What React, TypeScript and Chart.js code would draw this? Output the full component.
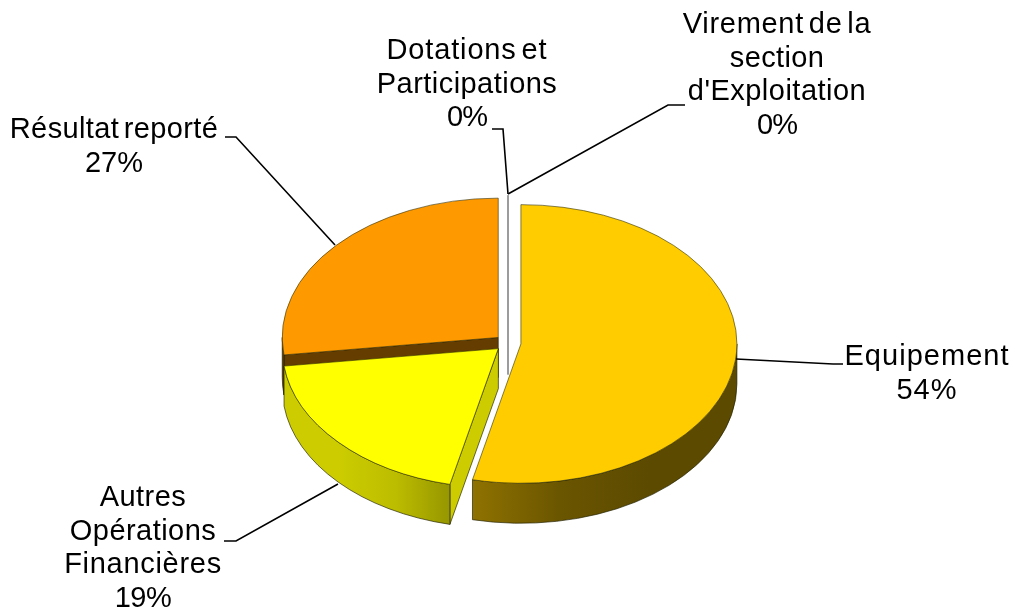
import React, { useEffect, useRef } from "react";
import { Chart, registerables } from "chart.js";

Chart.register(...registerables);

const categories = ["Equipement", "Autres Opérations Financières", "Résultat reporté", "Dotations et Participations", "Virement de la section d'Exploitation"];
const shares = [53.6, 19.4, 27.0, 0, 0];
const topColors = ["#FFCC00", "#FFFF00", "#FF9900", "#999999", "#999999"];
const wallStops = [
  ["#8F7200", "#6A5500", "#5C4A00", "#5C4A00"],
  ["#CCCC00", "#CCCC00", "#BDBD00", "#969600"],
  ["#663D00", "#663D00", "#663D00", "#663D00"],
  ["#999999", "#999999", "#999999", "#999999"],
  ["#999999", "#999999", "#999999", "#999999"],
];
const cutColors = ["#665200", "#CCCC00", "#663D00", "#999999", "#999999"];
const labelLines = [
  ["Equipement", "54%"],
  ["Autres", "Opérations", "Financières", "19%"],
  ["Résultat reporté", "27%"],
  ["Dotations et", "Participations", "0%"],
  ["Virement de la", "section", "d'Exploitation", "0%"],
];
const labelWidths = [
  [164, 60],
  [86, 146, 157, 57],
  [208, 58],
  [160, 180, 41],
  [188, 94, 178, 41],
];
const labelAnchors = [
  [927, 357],
  [143, 498],
  [114, 130],
  [467, 51],
  [777, 25],
];
const leaders = [
  [[736, 359], [833, 364], [843, 364]],
  [[338, 484], [236, 541], [224, 541]],
  [[335, 245], [236, 137], [225, 137]],
  [[508, 194], [503, 129], [492, 129]],
  [[508, 194], [668, 105], [685, 105]],
];

const TILT = 0.645;
const DEPTH = 40;
const EXPLODE = 13;
const RADIUS = 216;
const LINE_HEIGHT = 33.7;

function geometry(arc: any) {
  const mid = (arc.startAngle + arc.endAngle) / 2;
  return { ex: EXPLODE * Math.cos(mid), ey: EXPLODE * Math.sin(mid) };
}

const pie3d = {
  id: "pie3d",
  beforeDatasetDraw(chart: any) {
    const ctx = chart.ctx;
    const arcs = chart.getDatasetMeta(0).data;
    const order = arcs.map((_: any, i: number) => i).reverse();
    // walls, back to front
    for (const i of order) {
      const arc = arcs[i];
      const { ex, ey } = geometry(arc);
      const px = arc.x + ex;
      const py = arc.y + TILT * ey;
      const R = arc.outerRadius;
      const s = arc.startAngle;
      const e = arc.endAngle;
      if (e - s < 1e-6) {
        const topY = py - TILT * R;
        ctx.save();
        ctx.strokeStyle = cutColors[i];
        ctx.lineWidth = 1.6;
        ctx.beginPath();
        ctx.moveTo(px, topY);
        ctx.lineTo(px, py + DEPTH);
        ctx.stroke();
        ctx.restore();
        continue;
      }
      const cut = (a: number) => {
        ctx.beginPath();
        ctx.moveTo(px, py);
        ctx.lineTo(px + R * Math.cos(a), py + TILT * R * Math.sin(a));
        ctx.lineTo(px + R * Math.cos(a), py + TILT * R * Math.sin(a) + DEPTH);
        ctx.lineTo(px, py + DEPTH);
        ctx.closePath();
        ctx.fillStyle = cutColors[i];
        ctx.fill();
        ctx.strokeStyle = "rgba(30,30,0,0.65)";
        ctx.lineWidth = 1;
        ctx.stroke();
      };
      if (-Math.cos(s) > 1e-6) cut(s);
      if (Math.cos(e) > 1e-6) cut(e);
      for (const k of [-1, 0, 1]) {
        const a0 = Math.max(s, k * 2 * Math.PI);
        const a1 = Math.min(e, k * 2 * Math.PI + Math.PI);
        if (a1 <= a0) continue;
        const xs = [a0, a1].map((a) => px + R * Math.cos(a));
        const left = a1 >= k * 2 * Math.PI + Math.PI ? px - R : Math.min(...xs);
        const right = a0 <= k * 2 * Math.PI ? px + R : Math.max(...xs);
        const g = ctx.createLinearGradient(left, 0, right, 0);
        const stops = wallStops[i];
        stops.forEach((c, n) => g.addColorStop(n / (stops.length - 1), c));
        ctx.beginPath();
        ctx.ellipse(px, py, R, TILT * R, 0, a0, a1);
        ctx.ellipse(px, py + DEPTH, R, TILT * R, 0, a1, a0, true);
        ctx.closePath();
        ctx.fillStyle = g;
        ctx.fill();
        ctx.strokeStyle = "rgba(30,30,0,0.65)";
        ctx.lineWidth = 1;
        ctx.stroke();
      }
    }
    // top faces
    for (const i of order) {
      const arc = arcs[i];
      if (arc.endAngle - arc.startAngle < 1e-6) continue;
      const { ex, ey } = geometry(arc);
      ctx.save();
      ctx.translate(arc.x, arc.y);
      ctx.scale(1, TILT);
      ctx.translate(-arc.x + ex, -arc.y + ey);
      arc.draw(ctx);
      ctx.restore();
    }
    return false;
  },
  afterDatasetsDraw(chart: any) {
    const ctx = chart.ctx;
    ctx.save();
    ctx.strokeStyle = "#000000";
    ctx.lineWidth = 1.6;
    for (const path of leaders) {
      ctx.beginPath();
      path.forEach(([x, y], n) => (n ? ctx.lineTo(x, y) : ctx.moveTo(x, y)));
      ctx.stroke();
    }
    ctx.fillStyle = "#000000";
    ctx.font = "29px 'Liberation Sans'";
    ctx.textAlign = "center";
    ctx.textBaseline = "middle";
    labelLines.forEach((lines, i) => {
      lines.forEach((text, n) => {
        const c = ctx as any;
        c.letterSpacing = "0px";
        c.wordSpacing = "-4px";
        const natural = ctx.measureText(text).width;
        const gap = (labelWidths[i][n] - natural) / Math.max(text.length - 1, 1);
        c.letterSpacing = `${gap.toFixed(2)}px`;
        ctx.fillText(text, labelAnchors[i][0], labelAnchors[i][1] + n * LINE_HEIGHT);
      });
    });
    ctx.restore();
  },
};

export default function App() {
  const ref = useRef<HTMLCanvasElement | null>(null);
  useEffect(() => {
    const chart = new Chart(ref.current as HTMLCanvasElement, {
      type: "pie",
      data: {
        labels: categories,
        datasets: [
          {
            data: shares,
            backgroundColor: topColors,
            borderColor: "rgba(40,40,0,0.7)",
            borderWidth: 1,
            borderAlign: "center",
            radius: RADIUS,
          } as any,
        ],
      },
      options: {
        responsive: false,
        animation: false,
        events: [],
        layout: { padding: { left: 1, top: 72 } },
        plugins: { legend: { display: false }, tooltip: { enabled: false } },
      },
      plugins: [pie3d as any],
    });
    return () => chart.destroy();
  }, []);
  return (
    <div style={{ position: "absolute", left: 0, top: 0, width: 1015, height: 614, background: "#fff" }}>
      <canvas ref={ref} width={1015} height={614} style={{ display: "block" }} />
    </div>
  );
}
